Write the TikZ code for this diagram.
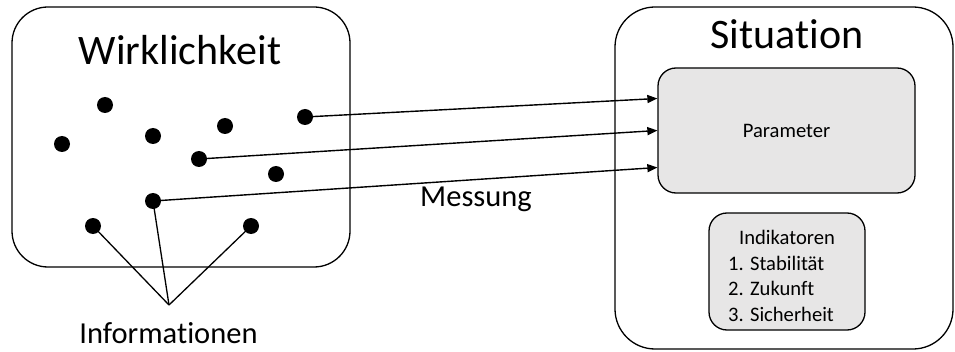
\documentclass[tikz,border=0pt]{standalone}
\usepackage{fontspec}
\setmainfont[Ligatures=NoCommon]{Carlito}
\usepackage{tikz}
\usetikzlibrary{calc, arrows.meta}
\definecolor{boxgrey}{RGB}{231,230,230}
\tikzstyle{frame} = [draw, line width = 1.3pt, rounded corners = 36pt]
\tikzstyle{greybox} = [draw, line width = 1.3pt, fill = boxgrey, rounded corners = 18pt]
\tikzstyle{dot} = [circle, fill = black, inner sep = 0pt, minimum size = 16pt]
\tikzstyle{link} = [line width = 1.3pt]
\tikzstyle{measure} = [line width = 1.4pt, -{Triangle[length=10pt, width=8pt]}]
\tikzstyle{bigtext} = [inner sep = 0pt, font = \fontsize{42}{50}\selectfont]
\tikzstyle{midtext} = [inner sep = 0pt, font = \fontsize{30.5}{36}\selectfont]
\tikzstyle{smalltext} = [inner sep = 0pt, font = \fontsize{20.6}{24}\selectfont]

\begin{document}
\begin{tikzpicture}[x=1pt, y=1pt]

	\useasboundingbox (0,0) rectangle (955,351);

	% Frames
	\node[frame, minimum width=338pt, minimum height=260pt] (real) at (181,214) {};
	\node[frame, rounded corners=40pt, minimum width=338pt, minimum height=342pt] (sit) at (784,173) {};

	% Titles
	\node[bigtext, anchor=base] (realtitle) at (180,286) {Wirklichkeit};
	\node[bigtext, anchor=base] (sittitle) at (787,302) {Situation};

	% Grey boxes
	\node[greybox, smalltext, minimum width=257pt, minimum height=125pt] (param) at (786.5,220.5) {Parameter};
	\node[greybox, minimum width=156pt, minimum height=117pt] (ind) at (787,79.5) {};
	\node[smalltext, anchor=base] (indtitle) at (787,106.7) {Indikatoren};
	\foreach \i/\t in {1/Stabilität, 2/Zukunft, 3/Sicherheit}
	{
		\node[smalltext, anchor=base west] (ind\i) at (728,{106.7-25.8*\i}) {\i. \t};
	}

	% Dots
	\foreach \n/\x/\y in {1/105/246, 2/62/207, 3/153/215, 4/225/225, 5/305/234,
		6/199/192, 7/276/177, 8/153/150, 9/93/125, 10/251/125}
	{
		\node[dot] (d\n) at (\x,\y) {};
	}

	% Informationen
	\coordinate (info) at (169,46);
	\node[midtext, anchor=base] (infotext) at (168.5,8) {Informationen};
	\draw[link] (d9.center) -- (info);
	\draw[link] (d8.center) -- (info);
	\draw[link] (d10.center) -- (info);

	% Messung
	\coordinate (p1) at ($(param.west)+(0,32)$);
	\coordinate (p2) at (param.west);
	\coordinate (p3) at ($(param.west)+(0,-37)$);
	\draw[measure] (d5.center) -- (p1);
	\draw[measure] (d6.center) -- (p2);
	\draw[measure] (d8.center) -- (p3);
	\node[midtext, anchor=base] (mess) at (476,144) {Messung};

\end{tikzpicture}
\end{document}
